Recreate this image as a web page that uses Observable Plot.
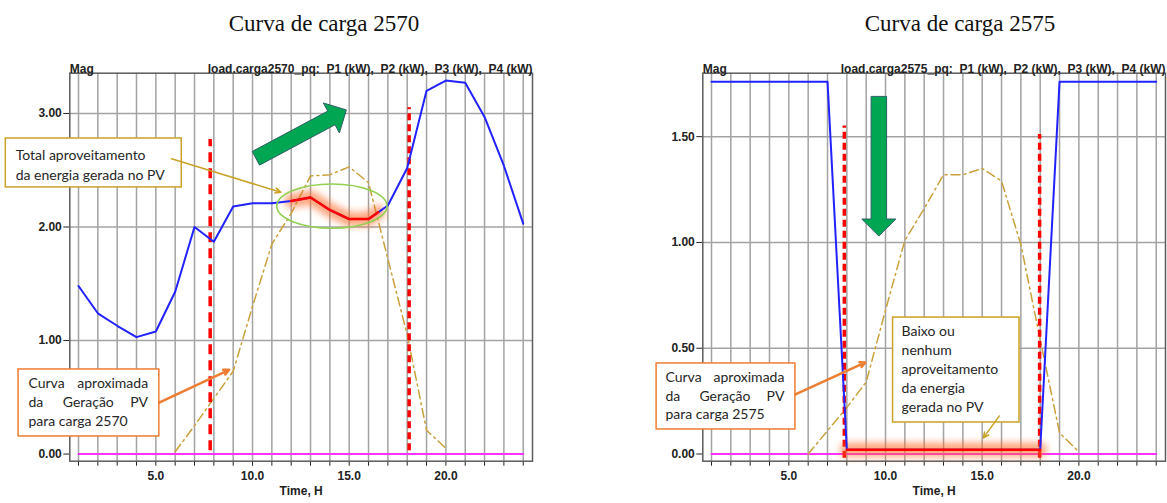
<!DOCTYPE html>
<html><head><meta charset="utf-8">
<script src="https://cdn.jsdelivr.net/npm/d3@7"></script>
<script src="https://cdn.jsdelivr.net/npm/@observablehq/plot@0.6"></script>
<style>
body{margin:0;background:#fff;width:1167px;height:503px;position:relative;overflow:hidden;}
.title{position:absolute;font-family:"Liberation Serif","Times New Roman",serif;font-size:23px;color:#111;white-space:nowrap;transform:translateX(-50%);line-height:1;}
.chart{position:absolute;top:45px;}
svg text{white-space:pre;}
</style></head><body>
<div class="title" style="left:324px;top:12px">Curva de carga 2570</div>
<div class="title" style="left:960px;top:12px">Curva de carga 2575</div>
<div class="chart" id="c1" style="left:0px"></div>
<div class="chart" id="c2" style="left:633px"></div>
<script>
// ---------- data ----------
const hours = [1,2,3,4,5,6,7,8,9,10,11,12,13,14,15,16,17,18,19,20,21,22,23,24];
const xLabelHours = [5,10,15,20];

// load.carga2570_pq  P1 (kW)
const load2570 = [1.48,1.24,1.13,1.03,1.08,1.43,2.00,1.87,2.18,2.21,2.21,2.23,2.26,2.15,2.07,2.07,2.19,2.52,3.20,3.29,3.27,2.97,2.54,2.03];
// P2..P4 (kW)
const other2570 = [0,0,0,0,0,0,0,0,0,0,0,0,0,0,0,0,0,0,0,0,0,0,0,0];
// approximate PV generation
const pvHours = [6,7,8,9,10,11,12,13,14,15,16,17,18,19,20];
const pv2570 = [0.02,0.25,0.49,0.73,1.30,1.85,2.12,2.45,2.46,2.53,2.39,1.72,1.05,0.21,0.05];
const yTicks2570 = [0,1,2,3];

// load.carga2575_pq  P1 (kW)
const load2575 = [1.76,1.76,1.76,1.76,1.76,1.76,1.76,0.02,0.02,0.02,0.02,0.02,0.02,0.02,0.02,0.02,0.02,0.02,1.76,1.76,1.76,1.76,1.76,1.76];
const other2575 = [0,0,0,0,0,0,0,0,0,0,0,0,0,0,0,0,0,0,0,0,0,0,0,0];
const pv2575 = [0.00,0.11,0.22,0.34,0.68,1.01,1.16,1.32,1.32,1.35,1.29,0.99,0.54,0.10,0.01];
const yTicks2575 = [0,0.5,1,1.5];

// red dashed markers (hour, top, bottom)
const markHours2570 = [7.81, 18.1];
const markTop2570 = [2.77, 3.05];
const markBottom2570 = [0.03, 0.03];
const markHours2575 = [7.87, 17.97];
const markTop2575 = [1.55, 1.51];
const markBottom2575 = [-0.02, -0.02];

// highlighted stretch of the load curve
const highlight2570 = [12.0, 16.5];
const highlight2575 = [8, 18];

const xDomain = [0.55, 24.48];
const yDomain2570 = [-0.063, 3.355];
const yDomain2575 = [-0.034, 1.80];

// annotations (data coordinates)
const gold = "#c9a227", orange = "#ed7d31";
const ann2570 = {
  boxes: [
    {x1:-2.76, x2:6.34, y1:2.349, y2:2.780, stroke:gold},
    {x1:-2.10, x2:5.18, y1:0.155, y2:0.745, stroke:orange}
  ],
  texts: [
    {x:-2.25, y:2.630, t:"Total aproveitamento", a:"start"},
    {x:-2.25, y:2.454, t:"da energia gerada no PV", a:"start"},
    {x:-1.59, y:0.624, t:"Curva", a:"start"},
    {x:4.60, y:0.624, t:"aproximada", a:"end"},
    {x:-1.59, y:0.457, t:"da", a:"start"},
    {x:1.505, y:0.457, t:"Geração", a:"middle"},
    {x:4.60, y:0.457, t:"PV", a:"end"},
    {x:-1.59, y:0.289, t:"para carga 2570", a:"start"}
  ],
  arrows: [
    {x1:5.81, y1:2.601, x2:11.46, y2:2.307, stroke:gold, w:1.5},
    {x1:5.17, y1:0.452, x2:8.79, y2:0.742, stroke:orange, w:2.5}
  ],
  ellipse: {cx:14.13, cy:2.18, rx:2.85, ry:0.195},
  green: {x1:10.20, y1:2.601, x2:14.88, y2:3.027}
};
const ann2575 = {
  boxes: [
    {x1:-1.84, x2:5.34, y1:0.116, y2:0.428, stroke:orange},
    {x1:10.39, x2:16.93, y1:0.149, y2:0.645, stroke:gold}
  ],
  texts: [
    {x:-1.38, y:0.362, t:"Curva", a:"start"},
    {x:4.77, y:0.362, t:"aproximada", a:"end"},
    {x:-1.38, y:0.272, t:"da", a:"start"},
    {x:1.695, y:0.272, t:"Geração", a:"middle"},
    {x:4.77, y:0.272, t:"PV", a:"end"},
    {x:-1.38, y:0.187, t:"para carga 2575", a:"start"},
    {x:10.83, y:0.579, t:"Baixo ou", a:"start"},
    {x:10.83, y:0.489, t:"nenhum", a:"start"},
    {x:10.83, y:0.399, t:"aproveitamento", a:"start"},
    {x:10.83, y:0.310, t:"da energia", a:"start"},
    {x:10.83, y:0.220, t:"gerada no PV", a:"start"}
  ],
  arrows: [
    {x1:5.34, y1:0.282, x2:8.96, y2:0.433, stroke:orange, w:2.5},
    {x1:15.89, y1:0.180, x2:15.06, y2:0.076, stroke:gold, w:1.5}
  ],
  ellipse: null,
  green: {x1:9.68, y1:1.688, x2:9.68, y2:1.028}
};

// ---------- chart ----------
function chart(cfg){
  const rows = hours.map((h,i)=>({h, load:cfg.load[i], other:cfg.other[i]}));
  const pvRows = pvHours.map((h,i)=>({h, v:cfg.pv[i]}));
  const interp = d3.scaleLinear(hours, cfg.load);
  const [a,b] = cfg.highlight;
  const hl = [{h:a, load:interp(a)}, ...rows.filter(r=>r.h>a && r.h<b), {h:b, load:interp(b)}];
  const marks = cfg.markHours.map((h,i)=>({h, top:cfg.markTop[i], bottom:cfg.markBottom[i]}));
  const FW = 462.7;
  const textOpts = {x:"x", y:"y", text:"t", fontFamily:"Lato, 'Open Sans', sans-serif", fontSize:14, fontWeight:"normal", fill:"#262626"};
  const svg = Plot.plot({
    width: cfg.width, height: 458,
    marginLeft: 69.3, marginRight: cfg.width-69.3-FW, marginTop: 27.7, marginBottom: 42.3,
    style: {fontFamily:'"Liberation Sans", Arial, sans-serif', fontSize:"12px", fontWeight:"bold", color:"#222", background:"transparent", overflow:"visible"},
    x: {domain: xDomain, ticks: hours, tickFormat: d => xLabelHours.includes(d) ? d.toFixed(1) : "", tickSize: 5, tickPadding: 5, label: null},
    y: {domain: cfg.yDomain, ticks: cfg.yTicks, tickFormat: d => d.toFixed(2), tickSize: 6, tickPadding: 2, label: null},
    marks: [
      Plot.ruleX(hours, {x: d=>d, stroke:"#a3a3a3", strokeWidth:1.5}),
      Plot.ruleY(cfg.yTicks.filter(v=>v>0), {y: d=>d, stroke:"#a3a3a3", strokeWidth:1.5}),
      Plot.frame({stroke:"#5c5c5c", strokeWidth:1.5}),
      Plot.line(rows, {x:"h", y:"other", stroke:"#ff33ff", strokeWidth:2}),
      Plot.line(pvRows, {x:"h", y:"v", stroke:"#c9a13b", strokeWidth:1.5, strokeDasharray:"9,4,2,4"}),
      Plot.ruleX(marks.slice(0,1), {x:"h", y1:"bottom", y2:"top", stroke:"#ff0000", strokeWidth:3.5, strokeDasharray: cfg.dash[0]}),
      Plot.ruleX(marks.slice(1), {x:"h", y1:"bottom", y2:"top", stroke:"#ff0000", strokeWidth:3.5, strokeDasharray: cfg.dash[1]}),
      Plot.line(hl, {x:"h", y:"load", stroke:"#ff6a2a", strokeWidth:14, strokeOpacity:0.6, strokeLinecap:"round"}),
      Plot.line(rows, {x:"h", y:"load", stroke:"#2222ff", strokeWidth:2}),
      Plot.line(hl, {x:"h", y:"load", stroke:"#ff0000", strokeWidth:2.5}),
      Plot.rect(cfg.ann.boxes, {x1:"x1", x2:"x2", y1:"y1", y2:"y2", fill:"white", stroke:d=>d.stroke, strokeWidth:1.5}),
      Plot.text(cfg.ann.texts.filter(d=>d.a==="start"), {...textOpts, textAnchor:"start"}),
      Plot.text(cfg.ann.texts.filter(d=>d.a==="middle"), {...textOpts, textAnchor:"middle"}),
      Plot.text(cfg.ann.texts.filter(d=>d.a==="end"), {...textOpts, textAnchor:"end"}),
      Plot.arrow(cfg.ann.arrows, {x1:"x1", y1:"y1", x2:"x2", y2:"y2", stroke:d=>d.stroke, strokeWidth:d=>d.w, headLength:9, headAngle:50}),
      Plot.text(["Mag"], {text:d=>d, frameAnchor:"top-left", textAnchor:"start", dy:-9}),
      Plot.text([cfg.header], {text:d=>d, frameAnchor:"top-right", textAnchor:"end", dy:-9}),
      Plot.text(["Time, H"], {text:d=>d, frameAnchor:"bottom", dy:34})
    ]
  });
  // decorations drawn through the plot's own scales
  const sx = svg.scale("x").apply, sy = svg.scale("y").apply;
  const sel = d3.select(svg);
  const fid = "glowblur" + cfg.id;
  sel.insert("defs", ":first-child").append("filter").attr("id", fid)
    .attr("filterUnits","userSpaceOnUse").attr("x",-100).attr("y",-100).attr("width",2000).attr("height",2000)
    .append("feGaussianBlur").attr("stdDeviation", 3.5);
  sel.selectAll('[stroke-width="14"]').attr("filter", `url(#${fid})`);
  const e = cfg.ann.ellipse;
  if (e) {
    sel.append("ellipse")
      .attr("cx", sx(e.cx)).attr("cy", sy(e.cy))
      .attr("rx", sx(e.cx+e.rx)-sx(e.cx)).attr("ry", sy(e.cy-e.ry)-sy(e.cy))
      .attr("fill","none").attr("stroke","#92d050").attr("stroke-width",1.6);
  }
  const g = cfg.ann.green;
  const p1 = [sx(g.x1), sy(g.y1)], p2 = [sx(g.x2), sy(g.y2)];
  const dx = p2[0]-p1[0], dy = p2[1]-p1[1], L = Math.hypot(dx,dy);
  const ux = dx/L, uy = dy/L, nx = -uy, ny = ux;
  const bw = 15.5, hw = 34, hlen = 17;
  const bx = p2[0]-ux*hlen, by = p2[1]-uy*hlen;
  const pts = [
    [p1[0]+nx*bw/2, p1[1]+ny*bw/2], [bx+nx*bw/2, by+ny*bw/2], [bx+nx*hw/2, by+ny*hw/2],
    p2, [bx-nx*hw/2, by-ny*hw/2], [bx-nx*bw/2, by-ny*bw/2], [p1[0]-nx*bw/2, p1[1]-ny*bw/2]
  ];
  sel.append("path").attr("d", "M"+pts.map(p=>p.join(",")).join("L")+"Z")
    .attr("fill","#00a651").attr("stroke","#2f5f66").attr("stroke-width",1);
  return svg;
}

document.getElementById("c1").append(chart({
  id:1, width:580, load:load2570, other:other2570, pv:pv2570, yDomain:yDomain2570, yTicks:yTicks2570,
  markHours:markHours2570, markTop:markTop2570, markBottom:markBottom2570, dash:["10,6","7,4"],
  highlight:highlight2570, ann:ann2570,
  header:"load.carga2570_pq:  P1 (kW),  P2 (kW),  P3 (kW),  P4 (kW)"
}));
document.getElementById("c2").append(chart({
  id:2, width:534, load:load2575, other:other2575, pv:pv2575, yDomain:yDomain2575, yTicks:yTicks2575,
  markHours:markHours2575, markTop:markTop2575, markBottom:markBottom2575, dash:["7,4","7,4"],
  highlight:highlight2575, ann:ann2575,
  header:"load.carga2575_pq:  P1 (kW),  P2 (kW),  P3 (kW),  P4 (kW)"
}));
</script>
</body></html>
